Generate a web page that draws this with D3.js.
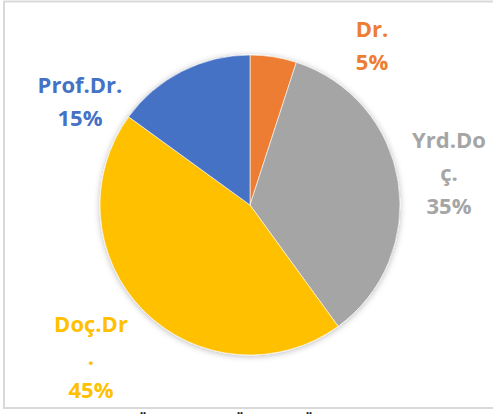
<!DOCTYPE html>
<html>
<head>
<meta charset="utf-8">
<script src="https://cdn.jsdelivr.net/npm/d3@7"></script>
<style>
  body { margin: 0; background: #fff; }
  svg { display: block; }
</style>
</head>
<body>
<svg id="chart" width="493" height="414"></svg>
<script>
// data
var categories = ["Dr.", "Yrd.Doç.", "Doç.Dr.", "Prof.Dr."];
var values = [5, 35, 45, 15];
var colors = ["#ED7D31", "#A5A5A5", "#FFC000", "#4472C4"];
// how excel wrapped the category names inside the label boxes
var categoryLines = [["Dr."], ["Yrd.Do", "ç."], ["Doç.Dr", "."], ["Prof.Dr."]];
var captionWords = ["Şekil 3.", "Öğretim", "Üyesi", "Ünvan", "Dağılımı"];

var width = 493, height = 414;
var cx = 250, cy = 205, radius = 150;
var lineH = 33, fontSize = 22;

// label block centres, relative to the pie centre (best fit placement)
var labelOffset = {
  "Dr.": [122, -159],
  "Yrd.Doç.": [199, -32],
  "Doç.Dr.": [-159, 152],
  "Prof.Dr.": [-170, -103]
};
var captionX = [33, 136, 233, 302, 380];

var svg = d3.select("#chart");

var defs = svg.append("defs");
var f = defs.append("filter").attr("id", "shadow")
    .attr("x", "-20%").attr("y", "-20%").attr("width", "140%").attr("height", "140%");
f.append("feDropShadow")
    .attr("dx", 0).attr("dy", 1)
    .attr("stdDeviation", 3)
    .attr("flood-color", "#000")
    .attr("flood-opacity", 0.28);

// chart area border (right side runs off the page)
svg.append("rect")
    .attr("x", 4).attr("y", 1.5)
    .attr("width", 600).attr("height", 406.5)
    .attr("fill", "#fff")
    .attr("stroke", "#d9d9d9")
    .attr("stroke-width", 2);

var color = d3.scaleOrdinal().domain(categories).range(colors);

var pie = d3.pie().sort(null).value(function(d){ return d.value; });
var arc = d3.arc().innerRadius(0).outerRadius(radius);

var rows = categories.map(function(c, i){
  return { name: c, value: values[i], lines: categoryLines[i] };
});
var total = d3.sum(values);

var g = svg.append("g").attr("transform", "translate(" + cx + "," + cy + ")");

g.append("g").attr("filter", "url(#shadow)")
  .selectAll("path")
  .data(pie(rows))
  .join("path")
    .attr("d", arc)
    .attr("fill", function(d){ return color(d.data.name); })
    .attr("stroke", "#fff")
    .attr("stroke-width", 0.6);

var pct = d3.format(".0%");
var capH = 0.714 * fontSize;

var labels = g.selectAll("text.lbl")
  .data(pie(rows))
  .join("text")
    .attr("class", "lbl")
    .attr("text-anchor", "middle")
    .attr("font-family", "'Open Sans', 'Liberation Sans', sans-serif")
    .attr("font-weight", "bold")
    .attr("font-size", fontSize)
    .attr("fill", function(d){ return color(d.data.name); });

labels.each(function(d){
  var lines = d.data.lines.concat([pct(d.data.value / total)]);
  var off = labelOffset[d.data.name];
  var y0 = off[1] - (lines.length - 1) * lineH / 2 + capH / 2;
  d3.select(this).selectAll("tspan")
    .data(lines)
    .join("tspan")
      .attr("x", off[0])
      .attr("y", function(t, i){ return y0 + i * lineH; })
      .text(function(t){ return t; });
});

// figure caption, cut off by the bottom of the picture (as in the source)
svg.append("text")
    .attr("font-family", "'Liberation Serif', serif")
    .attr("font-weight", "bold")
    .attr("font-size", 18)
    .attr("fill", "#222")
  .selectAll("tspan")
  .data(captionWords)
  .join("tspan")
    .attr("x", function(d, i){ return captionX[i]; })
    .attr("y", 428)
    .text(function(d){ return d; });
</script>
</body>
</html>
